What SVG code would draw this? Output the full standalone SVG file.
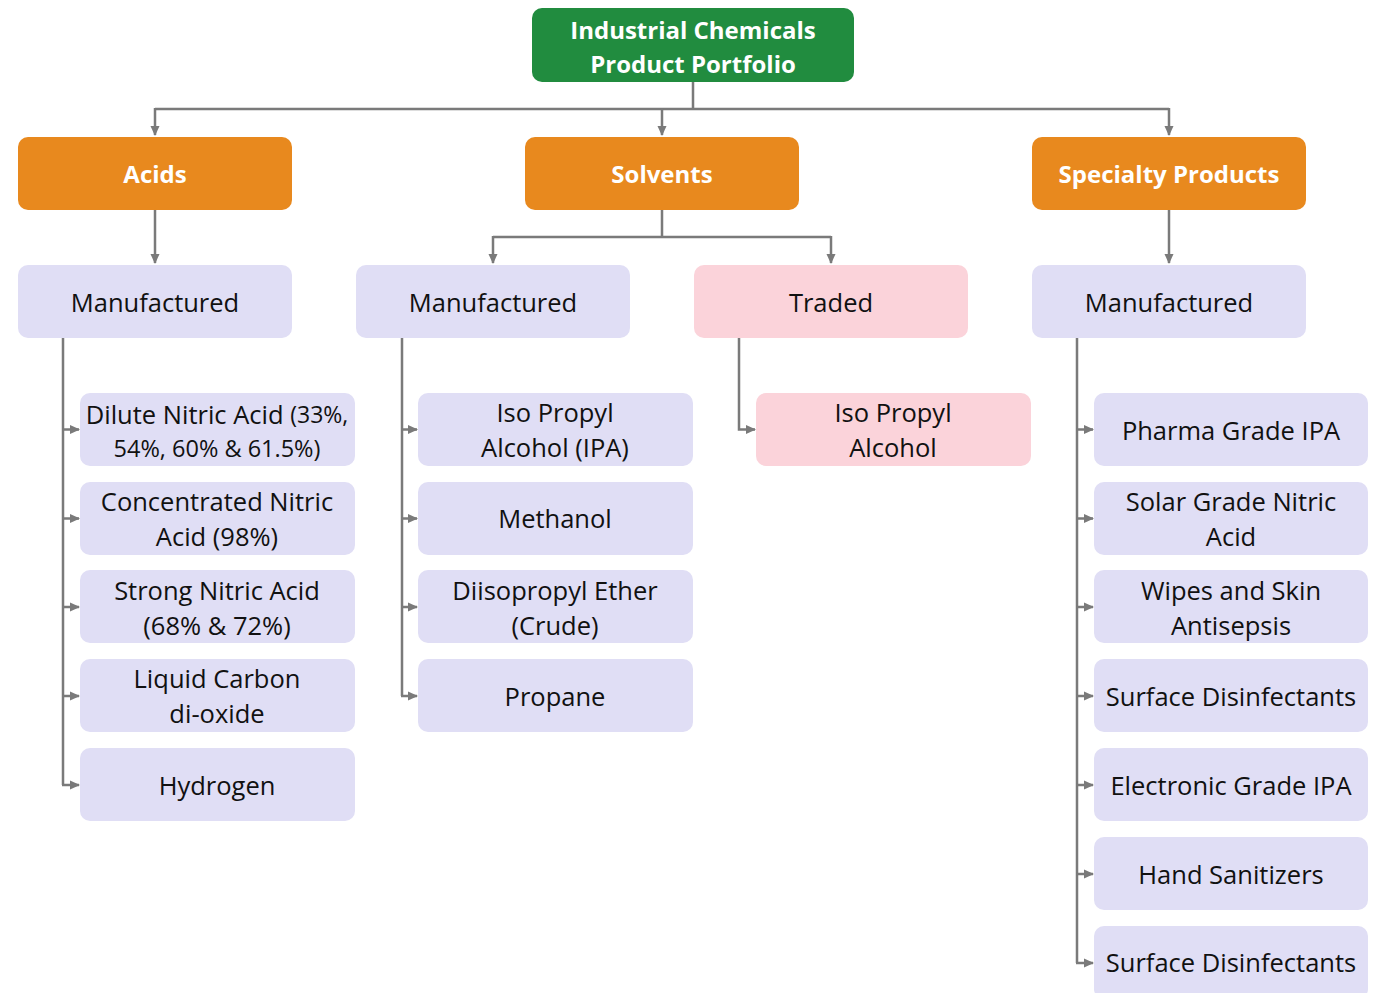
<svg xmlns="http://www.w3.org/2000/svg" width="1381" height="993" viewBox="0 0 1381 993">
<defs>
<marker id="arr" markerWidth="10" markerHeight="10" refX="9" refY="5" orient="auto" markerUnits="userSpaceOnUse">
<path d="M0,0.5 L10,5 L0,9.5 Z" fill="#7a7a7a"/>
</marker>
<style>
.root{fill:#218c3f}
.cat{fill:#e8891e}
.sub{fill:#e0def5}
.pink{fill:#fbd3da}
.tw{font-family:"Open Sans","Liberation Sans",sans-serif;font-weight:bold;fill:#fff;text-anchor:middle;dominant-baseline:central}
.tb{font-family:"Open Sans","Liberation Sans",sans-serif;fill:#111;text-anchor:middle;dominant-baseline:central;font-size:25.5px}
.ln{fill:none;stroke:#7a7a7a;stroke-width:2.5}
.la{fill:none;stroke:#7a7a7a;stroke-width:2.5;marker-end:url(#arr)}
</style>
</defs>
<rect width="1381" height="993" fill="#fff"/>
<g id="connectors">
<path class="ln" d="M693,82 V109 M155,109 H1169"/>
<path class="la" d="M155,108 V135"/>
<path class="la" d="M662,108 V135"/>
<path class="la" d="M1169,108 V135"/>
<path class="la" d="M155,206 V263"/>
<path class="ln" d="M662,210 V237 M493,237 H831"/>
<path class="la" d="M493,236 V263"/>
<path class="la" d="M831,236 V263"/>
<path class="la" d="M1169,210 V263"/>
<path class="ln" d="M63,338 V785"/>
<path class="la" d="M62,429.5 H79"/>
<path class="la" d="M62,518.5 H79"/>
<path class="la" d="M62,607 H79"/>
<path class="la" d="M62,696 H79"/>
<path class="la" d="M62,785 H79"/>
<path class="ln" d="M402,338 V696"/>
<path class="la" d="M401,429.5 H417"/>
<path class="la" d="M401,518.5 H417"/>
<path class="la" d="M401,607 H417"/>
<path class="la" d="M401,696 H417"/>
<path class="la" d="M739,338 V429.5 H755"/>
<path class="ln" d="M1077,338 V963"/>
<path class="la" d="M1076,429.5 H1093"/>
<path class="la" d="M1076,518.5 H1093"/>
<path class="la" d="M1076,607 H1093"/>
<path class="la" d="M1076,696 H1093"/>
<path class="la" d="M1076,785 H1093"/>
<path class="la" d="M1076,874 H1093"/>
<path class="la" d="M1076,963 H1093"/>
</g>
<g id="root"><rect class="root" x="532" y="8" width="322" height="74" rx="10"/>
<text class="tw" x="693" y="29" font-size="24">Industrial Chemicals</text>
<text class="tw" x="693" y="63" font-size="24">Product Portfolio</text></g>
<g id="acids"><rect class="cat" x="18" y="137" width="274" height="73" rx="10"/><text class="tw" x="155" y="173" font-size="24">Acids</text></g>
<g id="solvents"><rect class="cat" x="525" y="137" width="274" height="73" rx="10"/><text class="tw" x="662" y="173" font-size="24">Solvents</text></g>
<g id="specialty"><rect class="cat" x="1032" y="137" width="274" height="73" rx="10"/><text class="tw" x="1169" y="173" font-size="24">Specialty Products</text></g>
<g id="acids-mfg"><rect class="sub" x="18" y="265" width="274" height="73" rx="10"/><text class="tb" x="155" y="302">Manufactured</text></g>
<g id="solv-mfg"><rect class="sub" x="356" y="265" width="274" height="73" rx="10"/><text class="tb" x="493" y="302">Manufactured</text></g>
<g id="solv-traded"><rect class="pink" x="694" y="265" width="274" height="73" rx="10"/><text class="tb" x="831" y="302">Traded</text></g>
<g id="spec-mfg"><rect class="sub" x="1032" y="265" width="274" height="73" rx="10"/><text class="tb" x="1169" y="302">Manufactured</text></g>
<g id="a1"><rect class="sub" x="80" y="393" width="275" height="73" rx="10"/><text class="tb" x="217" y="414">Dilute Nitric Acid <tspan style="font-size:23px">(33%,</tspan></text><text class="tb" x="217" y="448" style="font-size:23.5px">54%, 60% &amp; 61.5%)</text></g>
<g id="a2"><rect class="sub" x="80" y="482" width="275" height="73" rx="10"/><text class="tb" x="217" y="501">Concentrated Nitric</text><text class="tb" x="217" y="536">Acid (98%)</text></g>
<g id="a3"><rect class="sub" x="80" y="570" width="275" height="73" rx="10"/><text class="tb" x="217" y="590">Strong Nitric Acid</text><text class="tb" x="217" y="625">(68% &amp; 72%)</text></g>
<g id="a4"><rect class="sub" x="80" y="659" width="275" height="73" rx="10"/><text class="tb" x="217" y="678">Liquid Carbon</text><text class="tb" x="217" y="713">di-oxide</text></g>
<g id="a5"><rect class="sub" x="80" y="748" width="275" height="73" rx="10"/><text class="tb" x="217" y="785">Hydrogen</text></g>
<g id="s1"><rect class="sub" x="418" y="393" width="275" height="73" rx="10"/><text class="tb" x="555" y="412">Iso Propyl</text><text class="tb" x="555" y="447">Alcohol (IPA)</text></g>
<g id="s2"><rect class="sub" x="418" y="482" width="275" height="73" rx="10"/><text class="tb" x="555" y="518">Methanol</text></g>
<g id="s3"><rect class="sub" x="418" y="570" width="275" height="73" rx="10"/><text class="tb" x="555" y="590">Diisopropyl Ether</text><text class="tb" x="555" y="625">(Crude)</text></g>
<g id="s4"><rect class="sub" x="418" y="659" width="275" height="73" rx="10"/><text class="tb" x="555" y="696">Propane</text></g>
<g id="t1"><rect class="pink" x="756" y="393" width="275" height="73" rx="10"/><text class="tb" x="893" y="412">Iso Propyl</text><text class="tb" x="893" y="447">Alcohol</text></g>
<g id="p1"><rect class="sub" x="1094" y="393" width="274" height="73" rx="10"/><text class="tb" x="1231" y="430">Pharma Grade IPA</text></g>
<g id="p2"><rect class="sub" x="1094" y="482" width="274" height="73" rx="10"/><text class="tb" x="1231" y="501">Solar Grade Nitric</text><text class="tb" x="1231" y="536">Acid</text></g>
<g id="p3"><rect class="sub" x="1094" y="570" width="274" height="73" rx="10"/><text class="tb" x="1231" y="590">Wipes and Skin</text><text class="tb" x="1231" y="625">Antisepsis</text></g>
<g id="p4"><rect class="sub" x="1094" y="659" width="274" height="73" rx="10"/><text class="tb" x="1231" y="696">Surface Disinfectants</text></g>
<g id="p5"><rect class="sub" x="1094" y="748" width="274" height="73" rx="10"/><text class="tb" x="1231" y="785">Electronic Grade IPA</text></g>
<g id="p6"><rect class="sub" x="1094" y="837" width="274" height="73" rx="10"/><text class="tb" x="1231" y="874">Hand Sanitizers</text></g>
<g id="p7"><rect class="sub" x="1094" y="926" width="274" height="73" rx="10"/><text class="tb" x="1231" y="962">Surface Disinfectants</text></g>
</svg>
